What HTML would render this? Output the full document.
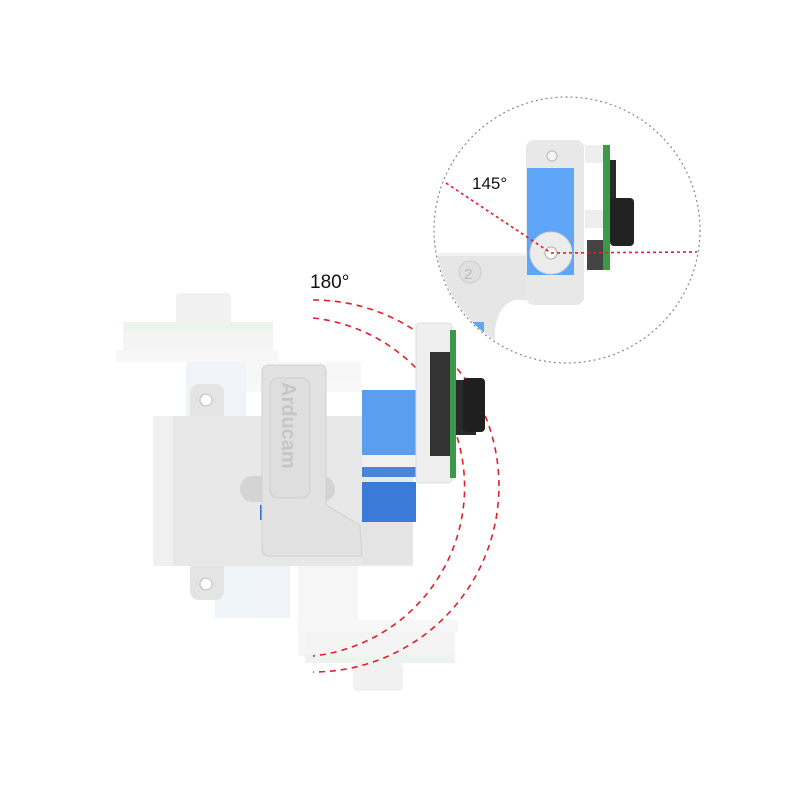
<!DOCTYPE html>
<html><head><meta charset="utf-8"><style>html,body{margin:0;padding:0;background:#fff}svg{display:block}</style></head><body>
<svg width="800" height="800" viewBox="0 0 800 800" xmlns="http://www.w3.org/2000/svg" font-family="Liberation Sans, sans-serif">
<defs><clipPath id="cc"><circle cx="567" cy="230" r="132"/></clipPath></defs>
<rect width="800" height="800" fill="#fff"/>
<!-- faded top part -->
<g opacity="0.55">
<rect x="176" y="293" width="55" height="32" rx="4" fill="#e6e6e6"/>
<rect x="123" y="322" width="150" height="8" fill="#dfeadf"/>
<rect x="123" y="330" width="150" height="22" fill="#ececec"/>
<rect x="116" y="350" width="162" height="12" fill="#f1f1f1"/>
<rect x="186" y="362" width="60" height="55" fill="#e4ecf4"/>
<rect x="246" y="362" width="115" height="30" fill="#f2f2f2"/>
</g>
<!-- faded bottom part -->
<g opacity="0.55">
<rect x="215" y="566" width="75" height="52" fill="#e4ecf4"/>
<rect x="298" y="566" width="60" height="90" fill="#f0f0f0"/>
<rect x="300" y="620" width="158" height="12" fill="#f2f2f2"/>
<rect x="305" y="632" width="150" height="28" fill="#ececec"/>
<rect x="305" y="655" width="150" height="8" fill="#dfeadf"/>
<rect x="353" y="663" width="50" height="28" rx="4" fill="#e6e6e6"/>
</g>
<!-- red arcs -->
<g fill="none" stroke="#e0202a" stroke-width="1.6" stroke-dasharray="6,5">
<path d="M313,300 A186,186 0 0 1 313,672"/>
<path d="M313,318 A170,170 0 0 1 313,656"/>
</g>
<text x="310" y="288" font-size="19" fill="#111">180°</text>
<!-- main body -->
<path d="M190,416 L190,395 Q190,384 200,384 L214,384 Q224,384 224,395 L224,416 Z" fill="#e4e4e4"/>
<circle cx="206" cy="400" r="6" fill="#fff" stroke="#bbb"/>
<path d="M190,566 L190,590 Q190,600 200,600 L214,600 Q224,600 224,590 L224,566 Z" fill="#e4e4e4"/>
<circle cx="206" cy="584" r="6" fill="#fff" stroke="#bbb"/>
<rect x="153" y="416" width="260" height="150" fill="#e8e8e8"/>
<rect x="153" y="416" width="20" height="150" fill="#f0f0f0"/>
<rect x="240" y="476" width="95" height="26" rx="13" fill="#d4d4d4"/>
<rect x="260" y="505" width="54" height="15" fill="#3a6fc4"/>
<!-- arducam bracket -->
<path d="M262,372 Q262,365 270,365 L320,365 Q326,365 326,372 L326,505 L360,525 L362,556 L270,556 Q262,556 262,548 Z" fill="#e2e2e2" stroke="#d0d0d0"/>
<rect x="270" y="378" width="40" height="120" rx="8" fill="#dedede" stroke="#cfcfcf"/>
<text transform="translate(282,382) rotate(90)" font-size="20" font-weight="bold" fill="#c6c6c6">Arducam</text>
<!-- blue servo -->
<rect x="362" y="390" width="54" height="65" fill="#5a9ef0"/>
<rect x="362" y="455" width="54" height="12" fill="#f0f0f0"/>
<rect x="362" y="467" width="54" height="10" fill="#4a86d8"/>
<rect x="362" y="482" width="54" height="40" fill="#3b7ad6"/>
<rect x="362" y="522" width="50" height="42" fill="#e4e4e4"/>
<!-- camera bracket -->
<rect x="416" y="323" width="36" height="160" rx="4" fill="#efefef" stroke="#ddd"/>
<rect x="430" y="352" width="20" height="104" fill="#333"/>
<rect x="450" y="330" width="6" height="148" fill="#3a9a4a"/>
<rect x="456" y="380" width="20" height="55" fill="#2a2a2a"/>
<rect x="463" y="378" width="22" height="54" rx="4" fill="#1f1f1f"/>
<!-- detail circle -->
<circle cx="567" cy="230" r="133" fill="#fff" stroke="#888" stroke-width="1.2" stroke-dasharray="2,3"/>
<g clip-path="url(#cc)">
<path d="M430,253 L583,253 L583,300 L515,300 Q498,305 495,330 L495,370 L430,370 Z" fill="#e6e6e6"/>
<rect x="430" y="253" width="150" height="3" fill="#f2f2f2"/>
<rect x="470" y="322" width="14" height="10" fill="#5fa6f8"/>
<rect x="430" y="330" width="28" height="40" fill="#e6e6e6"/>
<rect x="455" y="330" width="5" height="40" fill="#3a9a4a"/>
<rect x="430" y="345" width="25" height="30" fill="#444"/>
</g>
<circle cx="470" cy="272" r="11" fill="#e0e0e0" stroke="#ccc"/>
<text x="464" y="279" font-size="15" fill="#bbb">2</text>
<rect x="526" y="140" width="58" height="165" rx="8" fill="#e8e8e8"/>
<rect x="527" y="168" width="47" height="107" fill="#5fa6f8"/>
<circle cx="552" cy="156" r="5" fill="#f5f5f5" stroke="#bbb"/>
<circle cx="551" cy="253" r="21" fill="#ececec" stroke="#d6d6d6"/>
<circle cx="551" cy="253" r="6" fill="#fff" stroke="#aaa"/>
<rect x="585" y="145" width="20" height="18" fill="#eee"/>
<rect x="585" y="210" width="20" height="18" fill="#eee"/>
<rect x="603" y="145" width="7" height="125" fill="#3a9a4a"/>
<rect x="610" y="160" width="6" height="60" fill="#2a2a2a"/>
<rect x="610" y="198" width="24" height="48" rx="4" fill="#222"/>
<rect x="587" y="240" width="16" height="30" fill="#444"/>
<g stroke="#e0202a" stroke-width="1.6" stroke-dasharray="3,3" fill="none">
<path d="M446,183 L551,253"/>
<path d="M551,253 L697,252"/>
</g>
<text x="472" y="189" font-size="17" fill="#111">145°</text>
</svg>
</body></html>
